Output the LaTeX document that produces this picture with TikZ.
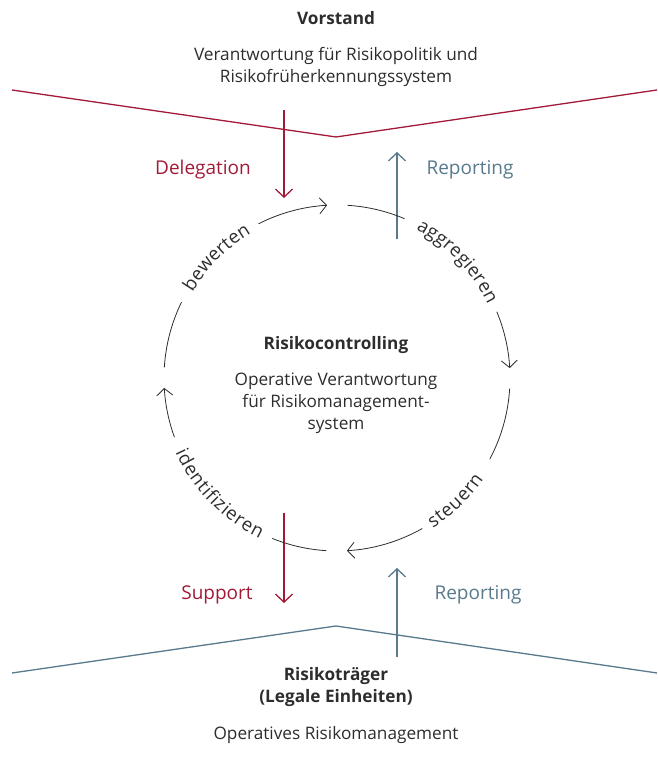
\documentclass[tikz,border=0pt]{standalone}
\usepackage{fontspec}
\setmainfont{Open Sans}
\usepackage{xcolor}
\usetikzlibrary{arrows.meta,decorations.text}
\definecolor{myred}{RGB}{163,26,56}
\definecolor{myblue}{RGB}{88,122,140}
\definecolor{mygray}{RGB}{45,45,45}
\newcommand{\fsz}{\fontsize{17.2}{22}\selectfont}
\newcommand{\fszl}{\fontsize{19}{22}\selectfont}
\newcommand{\fszc}{\fontsize{18.5}{22}\selectfont}
\tikzstyle{lbl}=[font=\fsz,text=mygray,align=center,inner sep=0pt]

\begin{document}
\begin{tikzpicture}[
    x=1pt,y=1pt,
    ring/.style={
        draw=mygray,
        line width=0.8pt
    },
    ringtip/.style={
        ring,
        -{Straight Barb[length=7pt,width=16pt]}
    },
    redarr/.style={
        draw=myred,
        line width=1.3pt,
        -{Straight Barb[length=8pt,width=17pt]}
    },
    bluearr/.style={
        draw=myblue,
        line width=1.3pt,
        -{Straight Barb[length=8pt,width=17pt]}
    },
    flow/.style={
        lbl,
        font=\fszl
    },
    verb/.style={
        decorate,
        decoration={text effects along path,text={#1},text align=center,raise=-5pt,
            text effects/.cd,text along path,
            character widths={inner xsep=0.25pt,font=\fszc},
            characters={text=mygray,font=\fszc}}
    }
    ]
    \useasboundingbox (0,0) rectangle (657,767);
    \coordinate (C) at (337,389);
    % top and bottom level
    \node[lbl,font=\fsz\bfseries] (vorstand) at (336,749) {Vorstand};
    \node[lbl] (vorstandtxt) at (336,700)
        {Verantwortung f\"ur Risikopolitik und\\Risikofr\"uherkennungssystem};
    \node[lbl,font=\fsz\bfseries] (traeger) at (336,80)
        {Risikotr\"ager\\(Legale Einheiten)};
    \node[lbl] (traegertxt) at (336,32) {Operatives Risikomanagement};
    \node[lbl,font=\fsz\bfseries] (controlling) at (336,422) {Risikocontrolling};
    \node[lbl] (controllingtxt) at (336,364)
        {Operative Verantwortung\\f\"ur Risikomanagement-\\system};
    \coordinate (vl) at (12,677);
    \coordinate (vm) at (336,630);
    \coordinate (vr) at (657,677);
    \coordinate (tl) at (12,94);
    \coordinate (tm) at (336,141);
    \coordinate (tr) at (657,94);
    \draw[myred,line width=1.3pt] (vl) -- (vm) -- (vr);
    \draw[myblue,line width=1.3pt] (tl) -- (tm) -- (tr);
    % arrows between the levels
    \node[flow,text=myred] (delegation) at (203,597) {Delegation};
    \node[flow,text=myblue] (reptop) at (470,597) {Reporting};
    \node[flow,text=myred] (support) at (217,172) {Support};
    \node[flow,text=myblue] (repbot) at (478,172) {Reporting};
    \coordinate (dela) at (284,657);
    \coordinate (delb) at (284,569);
    \coordinate (rta) at (397,528);
    \coordinate (rtb) at (397,615);
    \coordinate (supa) at (284,254);
    \coordinate (supb) at (284,164);
    \coordinate (rba) at (397,110);
    \coordinate (rbb) at (397,199);
    \draw[redarr] (dela) -- (delb);
    \draw[bluearr] (rta) -- (rtb);
    \draw[redarr] (supa) -- (supb);
    \draw[bluearr] (rba) -- (rbb);
    % cycle
    \draw[ring] (C) ++(176.5:173) arc[start angle=176.5,end angle=154,radius=173];
    \path[verb=bewerten] (C) ++(160:173) arc[start angle=160,end angle=110,radius=173];
    \draw[ringtip] (C) ++(117:173) arc[start angle=117,end angle=93.3,radius=173];
    \draw[ring] (C) ++(86.5:173) arc[start angle=86.5,end angle=67,radius=173];
    \path[verb=aggregieren] (C) ++(74:173) arc[start angle=74,end angle=14,radius=173];
    \draw[ringtip] (C) ++(22.5:173) arc[start angle=22.5,end angle=3.3,radius=173];
    \draw[ring] (C) ++(-3.5:173) arc[start angle=-3.5,end angle=-28,radius=173];
    \path[verb=steuern] (C) ++(-71:173) arc[start angle=-71,end angle=-21,radius=173];
    \draw[ringtip] (C) ++(-60.5:173) arc[start angle=-60.5,end angle=-86.7,radius=173];
    \draw[ring] (C) ++(-93.5:173) arc[start angle=-93.5,end angle=-112,radius=173];
    \path[verb=identifizieren] (C) ++(-166:173) arc[start angle=-166,end angle=-105,radius=173];
    \draw[ringtip] (C) ++(-160:173) arc[start angle=-160,end angle=-176.7,radius=173];
\end{tikzpicture}
\end{document}
